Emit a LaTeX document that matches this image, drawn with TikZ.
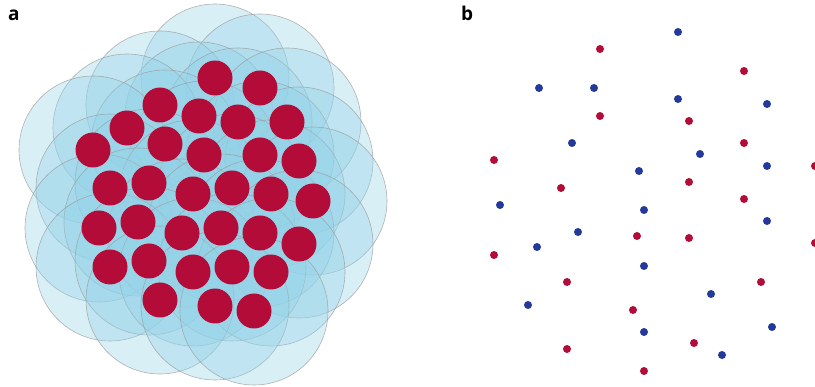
\documentclass[tikz,border=0pt]{standalone}
\usepackage{fontspec}
\setsansfont{Open Sans}
\usetikzlibrary{positioning}
\definecolor{particlered}{HTML}{B30C38}
\definecolor{haloblue}{HTML}{94D2E7}
\definecolor{dotblue}{HTML}{24399A}
\definecolor{rimgray}{HTML}{9A9A9A}

\begin{document}
\begin{tikzpicture}[
    x=1pt, y=-1pt,
    halo/.style={
        circle, minimum size=148pt, inner sep=0pt,
        fill=haloblue, fill opacity=0.36,
        draw=rimgray, draw opacity=0.75, line width=0.6pt,
    },
    particle/.style={
        circle, minimum size=35pt, inner sep=0pt,
        fill=particlered,
    },
    reddot/.style={
        circle, minimum size=8pt, inner sep=0pt,
        fill=particlered,
    },
    bluedot/.style={
        circle, minimum size=8pt, inner sep=0pt,
        fill=dotblue,
    },
    panel/.style={
        font=\sffamily\bfseries\fontsize{19}{19}\selectfont,
        anchor=base west, inner sep=0pt,
    },
]
\useasboundingbox (0,0) rectangle (815,387);

% Panel a: interaction ranges
\foreach \x/\y [count=\i] in {215/78, 260/88, 160/105, 199/116, 238/122, 287/122,
    127/128, 165/144, 204/155, 93/150, 260/155, 299/161,
    110/188, 149/183, 193/194, 232/188, 271/194, 313/201,
    99/228, 138/222, 182/233, 221/228, 260/233, 299/244,
    110/267, 149/261, 193/272, 232/267, 271/272,
    160/300, 215/306, 254/311}
    \node[halo] (h\i) at (\x,\y) {};

% Panel a: particles
\foreach \x/\y [count=\i] in {215/78, 260/88, 160/105, 199/116, 238/122, 287/122,
    127/128, 165/144, 204/155, 93/150, 260/155, 299/161,
    110/188, 149/183, 193/194, 232/188, 271/194, 313/201,
    99/228, 138/222, 182/233, 221/228, 260/233, 299/244,
    110/267, 149/261, 193/272, 232/267, 271/272,
    160/300, 215/306, 254/311}
    \node[particle] (p\i) at (\x,\y) {};

% Panel b: two species
\foreach \x/\y [count=\i] in {678/32, 539/88, 594/88, 678/99, 767/104, 572/143,
    700/154, 639/171, 767/166, 500/205, 644/210, 767/221, 578/232,
    537/247, 644/266, 528/305, 711/294, 772/327, 644/332, 722/355}
    \node[bluedot] (b\i) at (\x,\y) {};
\foreach \x/\y [count=\i] in {600/49, 744/71, 600/116, 689/121, 744/143, 494/160,
    815/166, 689/182, 561/188, 744/199, 637/236, 689/238, 815/243,
    494/255, 567/282, 761/282, 633/310, 694/343, 567/349, 644/371}
    \node[reddot] (r\i) at (\x,\y) {};

% Labels
\node[panel] (labela) at (8,21) {a};
\node[panel] (labelb) at (461,21) {b};

\end{tikzpicture}
\end{document}
